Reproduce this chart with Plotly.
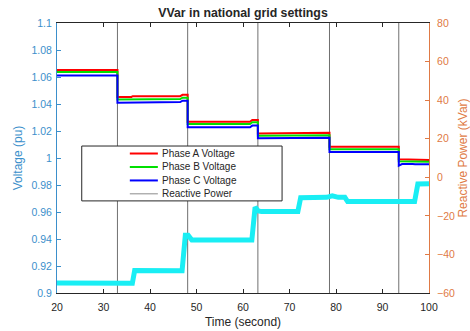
import plotly.graph_objects as go

# --- data -------------------------------------------------------------
title_text = "VVar in national grid settings"
series_names = ["Phase A Voltage", "Phase B Voltage", "Phase C Voltage", "Reactive Power"]

# switching instants (s)
t_switch = [33.0, 48.1, 63.2, 78.6, 93.5]

# phase voltages (pu)
t_v = [20, 33.0, 33.0, 36.0, 36.3, 46.5, 47.0, 48.1, 48.1, 61.5, 62.0, 63.2, 63.2,
       71.0, 71.3, 78.6, 78.6, 93.5, 93.5, 94.2, 96.5, 97.0, 100]
v_a = [1.0652, 1.0652, 1.0452, 1.0452, 1.0458, 1.0458, 1.0468, 1.0468, 1.0268, 1.0268,
       1.0282, 1.0282, 1.0182, 1.0182, 1.0187, 1.0187, 1.0083, 1.0083, 0.9990, 0.9990,
       0.9990, 0.9985, 0.9985]
v_b = [1.0637, 1.0637, 1.0433, 1.0433, 1.0437, 1.0437, 1.0447, 1.0447, 1.0252, 1.0252,
       1.0265, 1.0265, 1.0165, 1.0165, 1.0169, 1.0169, 1.0064, 1.0064, 0.9976, 0.9976,
       0.9976, 0.9972, 0.9972]
v_c = [1.0611, 1.0611, 1.0410, 1.0410, 1.0414, 1.0414, 1.0424, 1.0424, 1.0228, 1.0228,
       1.0240, 1.0240, 1.0146, 1.0146, 1.0150, 1.0150, 1.0044, 1.0044, 0.9943, 0.9955,
       0.9955, 0.9953, 0.9953]

# reactive power (kVar)
t_q = [20, 33.0, 36.2, 36.7, 46.9, 47.6, 48.2, 49.0, 61.9, 62.6, 63.3, 64.0, 71.8,
       72.4, 78.0, 79.2, 80.5, 81.9, 82.5, 96.9, 97.6, 100]
q = [-54.8, -55.0, -55.0, -48.3, -48.5, -30.0, -30.0, -32.5, -32.5, -15.5, -17.5,
     -17.8, -17.8, -10.6, -10.4, -9.6, -10.4, -10.4, -12.6, -12.6, -3.5, -3.3]

x_ticks = [20, 30, 40, 50, 60, 70, 80, 90, 100]
v_ticks = [0.9, 0.92, 0.94, 0.96, 0.98, 1.0, 1.02, 1.04, 1.06, 1.08, 1.1]
v_ticktext = ["0.9", "0.92", "0.94", "0.96", "0.98", "1", "1.02", "1.04", "1.06", "1.08", "1.1"]
q_ticks = [-60, -40, -20, 0, 20, 40, 60, 80]

# --- styling ----------------------------------------------------------
W, H = 470, 331
L, R, T, B = 57.3, 41.3, 22.7, 37.7
FONT = "Liberation Sans, Arial, sans-serif"
BLUE_AX = "#3b8fcb"
ORANGE_AX = "#e07a45"
DARK = "#262626"
colors = ["#ff0000", "#00e000", "#0000ff", "#b0b0b0"]
CYAN = "#19eef4"

# vertical marker lines at the switching instants
vx, vy = [], []
for ts in t_switch:
    vx += [ts, ts, None]
    vy += [0.9, 1.1, None]

fig = go.Figure()
fig.add_trace(go.Scatter(x=vx, y=vy, mode="lines", line=dict(color="#707070", width=1),
                         name=series_names[3], showlegend=False))
fig.add_trace(go.Scatter(x=t_q, y=q, mode="lines", line=dict(color=CYAN, width=5),
                         yaxis="y2", showlegend=False))
for vals, col, nm in zip([v_a, v_b, v_c], colors[:3], series_names[:3]):
    fig.add_trace(go.Scatter(x=t_v, y=vals, mode="lines", line=dict(color=col, width=2),
                             name=nm, showlegend=False))

# legend drawn as a framed box in the upper-left part of the plot
pw, ph = W - L - R, H - T - B


def px(xpix):
    return (xpix - L) / pw


def py(ypix):
    return (H - B - ypix) / ph


shapes = [dict(type="rect", xref="paper", yref="paper", x0=px(82), x1=px(282),
               y0=py(201), y1=py(146), fillcolor="white",
               line=dict(color=DARK, width=1), layer="above")]
annotations = []
rows = [153.5, 167.0, 180.5, 193.8]
for nm, col, yr, wd in zip(series_names, colors, rows, [2, 2, 2, 1.5]):
    shapes.append(dict(type="line", xref="paper", yref="paper", x0=px(130), x1=px(158),
                       y0=py(yr), y1=py(yr), line=dict(color=col, width=wd),
                       layer="above"))
    annotations.append(dict(xref="paper", yref="paper", x=px(160), y=py(yr), text=nm,
                            showarrow=False, xanchor="left", yanchor="middle",
                            font=dict(family=FONT, size=10, color=DARK)))

fig.update_layout(
    width=W, height=H,
    margin=dict(l=L, r=R, t=T, b=B, pad=0, autoexpand=False),
    paper_bgcolor="white", plot_bgcolor="white",
    font=dict(family=FONT, size=10.5, color=DARK),
    title=dict(text="<b>" + title_text + "</b>", x=(L + pw / 2) / W, xanchor="center",
               y=1 - 12.7 / H, yanchor="middle", font=dict(family=FONT, size=12.3, color=DARK)),
    xaxis=dict(range=[20, 100], tickvals=x_ticks, ticks="inside", ticklen=4, tickcolor=DARK,
               showline=True, linecolor=DARK, linewidth=1, mirror="ticks", showgrid=False,
               zeroline=False, tickfont=dict(size=10.5, color=DARK), ticklabelstandoff=4,
               automargin=False,
               title=dict(text="Time (second)", font=dict(size=12, color=DARK), standoff=6)),
    yaxis=dict(range=[0.9, 1.1], tickvals=v_ticks, ticktext=v_ticktext, ticks="inside",
               ticklen=4, tickcolor=BLUE_AX, showline=True, linecolor=BLUE_AX, linewidth=1,
               showgrid=False, zeroline=False, tickfont=dict(size=10.5, color=BLUE_AX),
               ticklabelstandoff=2, automargin=False,
               title=dict(text="Voltage (pu)", font=dict(size=12, color=BLUE_AX), standoff=6)),
    yaxis2=dict(range=[-60, 80], tickvals=q_ticks, overlaying="y", side="right",
                ticks="inside", ticklen=4, tickcolor=ORANGE_AX, showline=True,
                linecolor=ORANGE_AX, linewidth=1, showgrid=False, zeroline=False,
                tickfont=dict(size=10.5, color=ORANGE_AX), ticklabelstandoff=5,
                automargin=False,
                title=dict(text="Reactive Power (kVar)", font=dict(size=12, color=ORANGE_AX),
                           standoff=8)),
    shapes=shapes,
    annotations=annotations,
    showlegend=False,
)

fig.write_html("out.html")
